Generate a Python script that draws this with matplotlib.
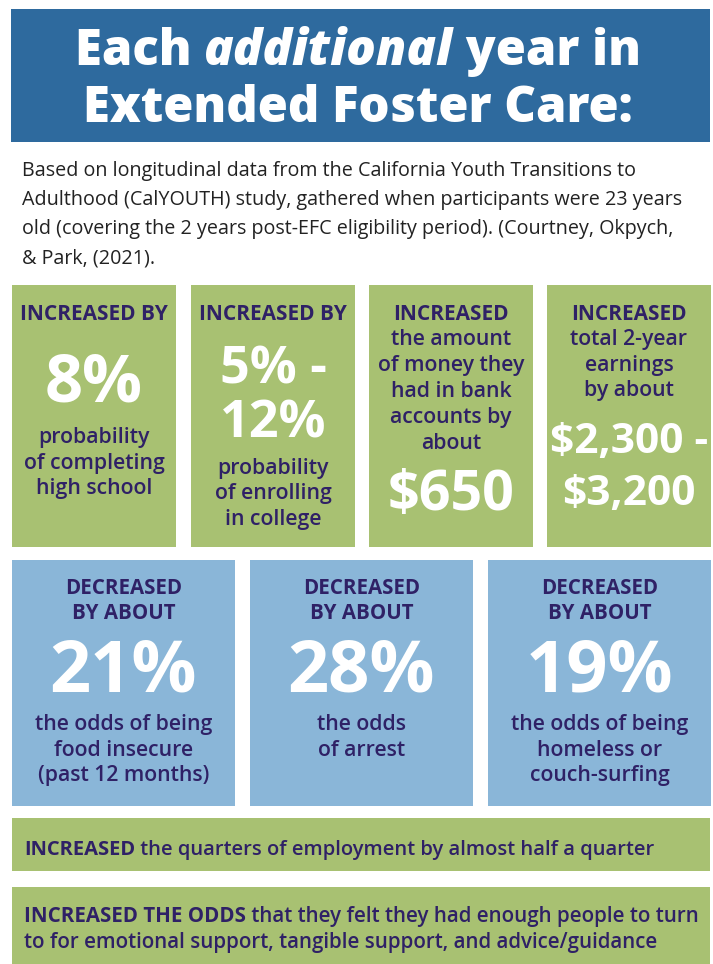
import matplotlib
matplotlib.use('Agg')
import matplotlib.pyplot as plt
from matplotlib.patches import Rectangle

plt.rcParams['font.family'] = ['Open Sans', 'DejaVu Sans']

# colours
banner_col = '#2e6a9e'
green_col = '#a8c172'
blue_col = '#8ab6d8'
ink = '#2f2166'

title_parts = [('Each ', 'normal'), ('additional', 'italic'), (' year in', 'normal')]
title_line2 = 'Extended Foster Care:'

intro_lines = ['Based on longitudinal data from the California Youth Transitions to',
               'Adulthood (CalYOUTH) study, gathered when participants were 23 years',
               'old (covering the 2 years post-EFC eligibility period). (Courtney, Okpych,',
               '& Park, (2021).']

# top row (green)
green_heads = [['INCREASED BY'], ['INCREASED BY'], ['INCREASED'], ['INCREASED']]
green_before = [[], [], ['the amount', 'of money they', 'had in bank', 'accounts by', 'about'],
                ['total 2-year', 'earnings', 'by about']]
green_big = [['8%'], ['5% -', '12%'], ['$650'], ['$2,300 -', '$3,200']]
green_after = [['probability', 'of completing', 'high school'],
               ['probability', 'of enrolling', 'in college'], [], []]

# second row (blue)
blue_heads = ['DECREASED', 'BY ABOUT']
blue_big = ['21%', '28%', '19%']
blue_after = [['the odds of being', 'food insecure', '(past 12 months)'],
              ['the odds', 'of arrest'],
              ['the odds of being', 'homeless or', 'couch-surfing']]

band1 = [('INCREASED', 'bold'), (' the quarters of employment by almost half a quarter', 'semibold')]
band2_l1 = [('INCREASED THE ODDS', 'bold'), (' that they felt they had enough people to turn', 'semibold')]
band2_l2 = [('to for emotional support, tangible support, and advice/guidance', 'semibold')]

fig = plt.figure(figsize=(7.13, 9.64), dpi=100)
ax = fig.add_axes([0, 0, 1, 1])
ax.set_xlim(0, 713)
ax.set_ylim(964, 0)
ax.axis('off')
renderer = fig.canvas.get_renderer()


def rich(parts, x, y, size, color, ha='left', weight='bold'):
    # one line made of several styled pieces
    objs = []
    for txt, st in parts:
        if st in ('normal', 'italic'):
            t = ax.text(0, y, txt, fontsize=size, color=color, weight=weight,
                        style=st, va='baseline', ha='left')
        else:
            t = ax.text(0, y, txt, fontsize=size, color=color, weight=st,
                        va='baseline', ha='left')
        objs.append(t)
    widths = [o.get_window_extent(renderer).width for o in objs]
    total = sum(widths)
    x0 = x - total / 2 if ha == 'center' else x
    for o, w in zip(objs, widths):
        o.set_x(x0)
        x0 += w


# banner
ax.add_patch(Rectangle((11, 9), 699, 133, color=banner_col, lw=0))
rich(title_parts, 358, 65, 35.3, 'white', ha='center', weight='heavy')
ax.text(358, 122, title_line2, fontsize=35.3, color='white', weight='heavy',
        ha='center', va='baseline')

for i, line in enumerate(intro_lines):
    ax.text(22, 176 + i * 29.2, line, fontsize=14.2, color='#222222',
            ha='left', va='baseline')

# green boxes
gx = [12, 191, 369, 547]
gw = 164
head_y = [[320], [320], [320], [320]]
before_y = [[], [], [345, 371, 397, 423, 449], [345, 371, 396]]
big_y = [[402], [383, 437], [510], [453, 505]]
big_fs = [48, 37.5, 40, 30.5]
after_y = [[443, 469, 494], [474, 499, 525], [], []]
for i in range(4):
    ax.add_patch(Rectangle((gx[i], 285), gw, 262, color=green_col, lw=0))
    cx = gx[i] + gw / 2
    for txt, y in zip(green_heads[i], head_y[i]):
        ax.text(cx, y, txt, fontsize=15, color=ink, weight='bold', ha='center', va='baseline')
    for txt, y in zip(green_before[i], before_y[i]):
        ax.text(cx, y, txt, fontsize=15.3, color=ink, weight='semibold', ha='center', va='baseline')
    for txt, y in zip(green_big[i], big_y[i]):
        ax.text(cx, y, txt, fontsize=big_fs[i], color='white', weight='bold', ha='center', va='baseline')
    for txt, y in zip(green_after[i], after_y[i]):
        ax.text(cx, y, txt, fontsize=15.3, color=ink, weight='semibold', ha='center', va='baseline')

# blue boxes
bx = [12, 250, 488]
bw = 223
for i in range(3):
    ax.add_patch(Rectangle((bx[i], 560), bw, 246, color=blue_col, lw=0))
    cx = bx[i] + bw / 2
    for txt, y in zip(blue_heads, [594, 619]):
        ax.text(cx, y, txt, fontsize=14.8, color=ink, weight='bold', ha='center', va='baseline')
    ax.text(cx, 692, blue_big[i], fontsize=52, color='white', weight='bold', ha='center', va='baseline')
    for j, txt in enumerate(blue_after[i]):
        ax.text(cx, 730 + j * 25.5, txt, fontsize=15.3, color=ink, weight='semibold',
                ha='center', va='baseline')

# bottom bands
ax.add_patch(Rectangle((12, 818), 698, 53, color=green_col, lw=0))
rich(band1, 24, 855, 14.5, ink)
ax.add_patch(Rectangle((12, 887), 698, 77, color=green_col, lw=0))
rich(band2_l1, 24, 922, 14.8, ink)
rich(band2_l2, 24, 948, 14.8, ink)

fig.savefig('out.png', dpi=100, facecolor='white')
